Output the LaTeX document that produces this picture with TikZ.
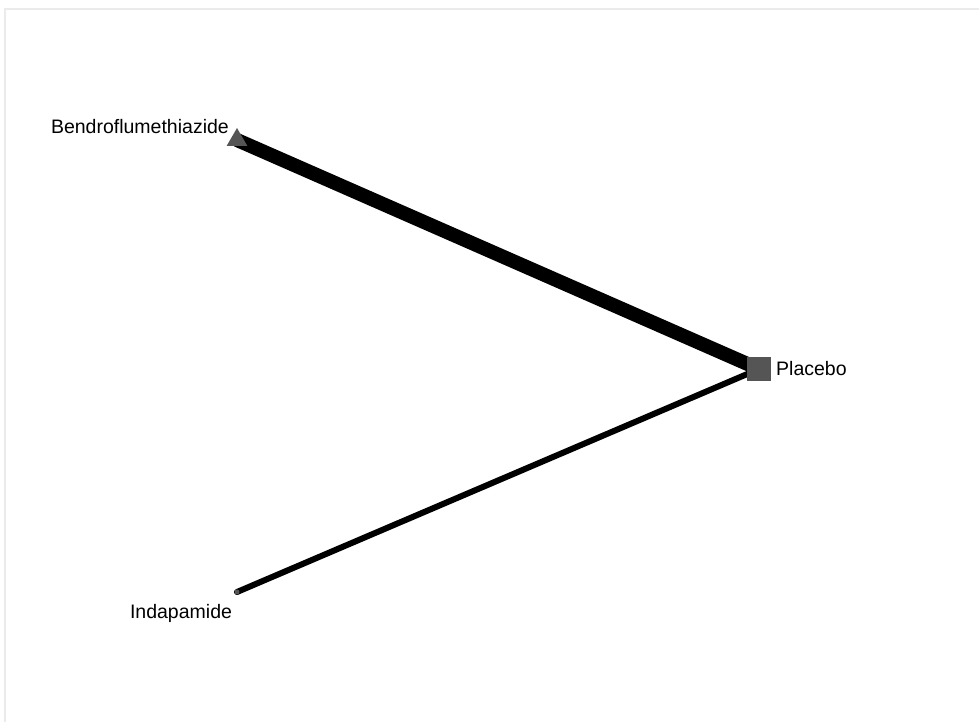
\documentclass[tikz,border=0pt]{standalone}
\usepackage{fontspec}
\setmainfont{Liberation Sans}
\usetikzlibrary{shapes.geometric}
\definecolor{nodegray}{HTML}{555555}
\definecolor{framegray}{HTML}{EBEBEB}
\tikzset{
  lbl/.style={font=\fontsize{19.5}{22}\selectfont, text=black, inner sep=0pt},
  edgeline/.style={draw=black, line cap=butt},
}
\begin{document}
\begin{tikzpicture}[x=1pt,y=-1pt]
\useasboundingbox (0,0) rectangle (979,722);
\fill[white] (0,0) rectangle (979,722);
\draw[framegray, line width=1.5pt] (5,722) -- (5,9) -- (979,9);
\coordinate (B) at (237,140);
\coordinate (P) at (759,369);
\coordinate (I) at (237,592);
\draw[edgeline, line width=14pt] (B) -- (P);
\draw[edgeline, line width=6pt, line cap=round] (I) -- (P);
\node[fill=nodegray, minimum size=24pt, inner sep=0pt] (Pn) at (P) {};
\node[regular polygon, regular polygon sides=3, fill=nodegray, minimum size=24pt, inner sep=0pt] (Bn) at (B) {};
\node[circle, fill=nodegray, minimum size=5pt, inner sep=0pt] (In) at (I) {};
\node[lbl, anchor=east] (Bl) at (229,127) {Bendroflumethiazide};
\node[lbl, anchor=west] (Pl) at (776,369) {Placebo};
\node[lbl] (Il) at (181,613) {Indapamide};
\end{tikzpicture}
\end{document}
